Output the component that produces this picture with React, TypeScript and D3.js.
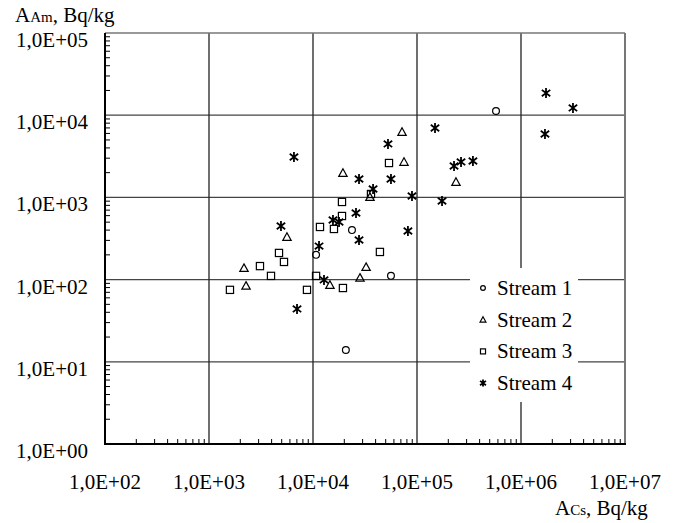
import * as d3 from "d3"

// Stream data (A_Cs, A_Am in Bq/kg)
const stream1Cs = [10700, 23700, 56200, 20700, 575000]
const stream1Am = [200, 400, 111, 13.9, 11250]

const stream2Cs = [2170, 2270, 5620, 14550, 19400, 28300, 32400, 71800, 75000, 237000, 35300]
const stream2Am = [138, 84, 330, 86, 1980, 105, 142, 6250, 2700, 1540, 1010]

const stream3Cs = [1590, 3090, 3945, 4710, 5260, 8750, 10700, 11670, 15900, 19000, 19000, 19400, 44000, 53800, 36100]
const stream3Am = [75, 146, 111, 211, 164, 75, 111, 437, 413, 880, 594, 79, 217, 2620, 1100]

const stream4Cs = [6560, 4920, 11430, 7020, 12760, 15560, 17800, 25900, 27700, 81800, 89500, 52600, 27700, 56200, 37800, 149000, 227000, 265000, 345000, 174000, 1740000, 3160000, 1700000]
const stream4Am = [3100, 449, 256, 44, 99, 531, 502, 646, 303, 390, 1040, 4470, 1675, 1675, 1265, 6980, 2410, 2700, 2770, 904, 18600, 12250, 5900]

const streamNames = ["Stream 1", "Stream 2", "Stream 3", "Stream 4"]
const xTicks = [1e2, 1e3, 1e4, 1e5, 1e6, 1e7]
const yTicks = [1e0, 1e1, 1e2, 1e3, 1e4, 1e5]

const fmt = (v: number) => "1,0E+" + String(Math.round(Math.log10(v))).padStart(2, "0")

const FONT = "'Liberation Serif', 'DejaVu Serif', serif"

function Marker({ kind, x, y, s = 1 }: { kind: number; x: number; y: number; s?: number }) {
  const common = { fill: "none", stroke: "#000", strokeWidth: 1.2 }
  if (kind === 0) return <circle cx={x} cy={y} r={3.4 * s} {...common} />
  if (kind === 1) {
    const h = 4.2 * s
    return <path d={`M${x},${y - h}L${x + h},${y + h * 0.8}L${x - h},${y + h * 0.8}Z`} {...common} />
  }
  if (kind === 2) {
    const h = 3.6 * s
    return <rect x={x - h} y={y - h} width={h * 2} height={h * 2} {...common} />
  }
  const a = 5 * s
  const b = 4.2 * s
  const c = 3.2 * s
  return (
    <path
      d={`M${x},${y - a}L${x},${y + a}M${x - b},${y - c}L${x + b},${y + c}M${x - b},${y + c}L${x + b},${y - c}`}
      stroke="#000"
      strokeWidth={1.8}
      fill="none"
    />
  )
}

function T(props: any) {
  return <text fontFamily={FONT} fontSize={21} fill="#000" {...props} />
}

export default function App() {
  const width = 680
  const height = 523
  const left = 105, right = 625, top = 33, bottom = 444

  const x = d3.scaleLog().domain([1e2, 1e7]).range([left, right])
  const y = d3.scaleLog().domain([1e0, 1e5]).range([bottom, top])

  const minor = (lo: number, hi: number) => {
    const out: number[] = []
    for (let e = lo; e < hi; e++) for (let m = 2; m <= 9; m++) out.push(m * Math.pow(10, e))
    return out
  }

  const series = [
    { xs: stream1Cs, ys: stream1Am },
    { xs: stream2Cs, ys: stream2Am },
    { xs: stream3Cs, ys: stream3Am },
    { xs: stream4Cs, ys: stream4Am },
  ]

  const legX = 470, legY = 268, legW = 108, legH = 134

  return (
    <svg width={width} height={height} style={{ position: "absolute", left: 0, top: 0, background: "#fff" }}>
      {/* grid */}
      {yTicks.slice(1, -1).map(t => (
        <line key={"gy" + t} x1={left} x2={right} y1={y(t)} y2={y(t)} stroke="#444" strokeWidth={1.3} />
      ))}
      {xTicks.slice(1, -1).map(t => (
        <line key={"gx" + t} x1={x(t)} x2={x(t)} y1={top} y2={bottom} stroke="#222" strokeWidth={1.3} />
      ))}
      {/* frame */}
      <line x1={left} x2={right} y1={top} y2={top} stroke="#777" strokeWidth={1.6} />
      <line x1={right} x2={right} y1={top} y2={bottom} stroke="#777" strokeWidth={2} />
      {/* minor ticks */}
      {minor(0, 5).map(t => (
        <line key={"my" + t} x1={left} x2={left + 5} y1={y(t)} y2={y(t)} stroke="#000" strokeWidth={1} />
      ))}
      {minor(2, 7).map(t => (
        <line key={"mx" + t} x1={x(t)} x2={x(t)} y1={bottom} y2={bottom - 5} stroke="#000" strokeWidth={1} />
      ))}
      <line x1={left} x2={left} y1={top} y2={bottom + 1} stroke="#000" strokeWidth={2} />
      <line x1={left - 1} x2={right + 1} y1={bottom} y2={bottom} stroke="#000" strokeWidth={2} />

      {/* legend box */}
      <rect x={legX} y={legY} width={legW} height={legH} fill="#fff" />

      {/* points */}
      {series.map((s, k) =>
        s.xs.map((v, i) => <Marker key={k + "-" + i} kind={k} x={x(v)} y={y(s.ys[i])} />)
      )}

      {/* legend entries */}
      {streamNames.map((n, i) => (
        <g key={n}>
          <Marker kind={i} x={483} y={legY + 20 + i * 31.7} s={0.7} />
          <T x={497} y={legY + 27 + i * 31.7}>{n}</T>
        </g>
      ))}

      {/* tick labels */}
      {yTicks.map(t => (
        <T key={"ly" + t} x={88} y={y(t) + 14} textAnchor="end">{fmt(t)}</T>
      ))}
      {xTicks.map(t => (
        <T key={"lx" + t} x={x(t)} y={489} textAnchor="middle">{fmt(t)}</T>
      ))}

      {/* axis titles */}
      <T x={15} y={22}>A<tspan fontSize={15}>Am</tspan>, Bq/kg</T>
      <T x={555} y={515}>A<tspan fontSize={15}>Cs</tspan>, Bq/kg</T>
    </svg>
  )
}
